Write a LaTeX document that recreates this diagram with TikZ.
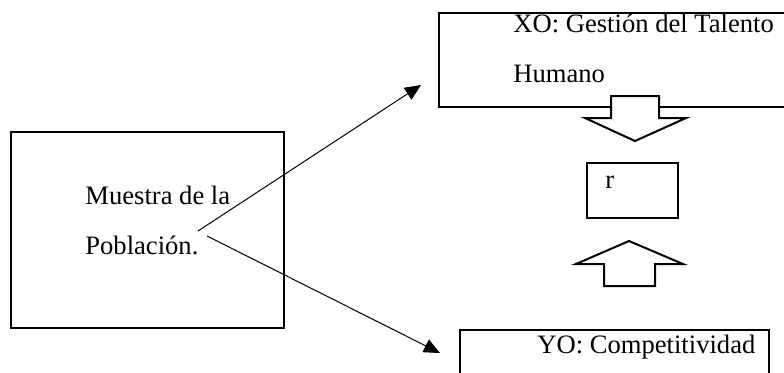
\documentclass[tikz,border=0pt]{standalone}
\usepackage{fontspec}
\setmainfont{Liberation Serif}
\usepackage{tikz}
\usetikzlibrary{arrows.meta,positioning}

\tikzset{
  box/.style={draw, line width=1pt, rectangle, anchor=north west, inner sep=0pt},
  txt/.style={anchor=base west, inner sep=0pt, font=\fontsize{13.3pt}{16pt}\selectfont},
  link/.style={line width=0.5pt, -{Triangle[length=8pt,width=7pt]}},
  hollow/.style={draw, line width=1pt, line join=miter, fill=white}
}

\begin{document}
\begin{tikzpicture}[x=0.5pt, y=-0.5pt]
    \useasboundingbox (0,0) rectangle (784,372);

    % Sample box
    \node[box, minimum width=136.5pt, minimum height=98pt] (muestra) at (10,131) {};
    \node[txt] (muestraA) at (85,204) {Muestra de la};
    \node[txt] (muestraB) at (85,254) {Población.};

    % Variable X
    \node[box, minimum width=176pt, minimum height=47pt] (xo) at (438,12) {};
    \node[txt] (xoA) at (513,32) {XO: Gestión del Talento};
    \node[txt] (xoB) at (513,82) {Humano};

    % Correlation
    \node[box, minimum width=45.5pt, minimum height=27.5pt] (corr) at (586,162) {};
    \node[txt] (corrR) at (605,188) {r};

    % Variable Y
    \node[box, minimum width=154.5pt, minimum height=30pt] (yo) at (459,329) {};
    \node[txt] (yoA) at (537,353) {YO: Competitividad};

    % Block arrows
    \draw[hollow] (611,96) -- (611,118) -- (585,118) -- (635,141) -- (686,118) -- (659,118) -- (659,96) -- cycle;
    \draw[hollow] (604,286) -- (604,264) -- (576,264) -- (629,241) -- (683,264) -- (655,264) -- (655,286) -- cycle;

    % Links from the sample
    \coordinate (tailX) at (198,231);
    \coordinate (tailY) at (207,236);
    \coordinate (tipX) at (421,85);
    \coordinate (tipY) at (440,353);
    \draw[link] (tailX) -- (tipX);
    \draw[link] (tailY) -- (tipY);
\end{tikzpicture}
\end{document}
